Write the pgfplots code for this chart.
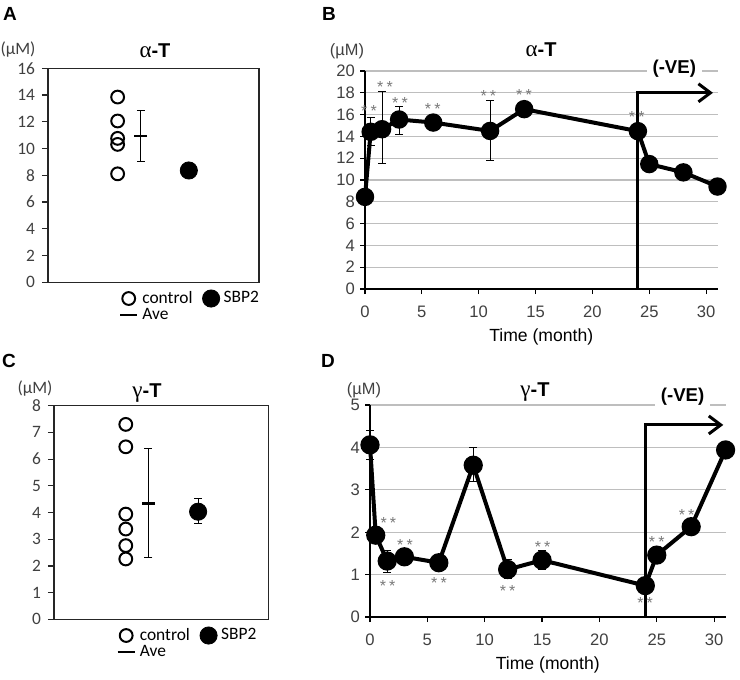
\documentclass[border=0pt]{standalone}
\usepackage{fontspec}
\setmainfont{Carlito}
\newfontfamily\hel{Liberation Sans}
\newfontfamily\grk{Liberation Serif}
\usepackage{pgfplots}
\pgfplotsset{compat=1.18}
\usetikzlibrary{arrows.meta}

\definecolor{tkl}{RGB}{64,64,64}
\definecolor{gridc}{RGB}{190,190,190}
\definecolor{astc}{RGB}{120,120,120}

\pgfplotsset{
  boxaxis/.style={
    anchor=south west, scale only axis, clip=false,
    xmin=0, xmax=4, ymin=0, xtick=\empty,
    ytick pos=left, tick align=outside, major tick length=3pt,
    axis line style={black!85, line width=0.6pt},
    tick style={black!85, line width=0.6pt},
    tick label style={font=\fontsize{8.7}{9}\selectfont, text=tkl},
    /pgf/number format/assume math mode=true,
    legend columns=2, legend cell align=left,
    legend style={draw=none, fill=none, inner sep=0pt,
      font=\fontsize{8.7}{9}\selectfont, row sep=-3pt,
      /tikz/every even column/.append style={column sep=3pt}},
  },
  timeaxis/.style={
    anchor=south west, scale only axis, clip=false,
    xmin=0, xmax=31, ymin=0, xtick={0,5,...,30},
    axis x line*=bottom, axis y line*=left,
    tick align=outside, major tick length=2.5pt,
    axis line style={black, line width=0.8pt},
    tick style={black, line width=0.6pt},
    ymajorgrids, grid style={gridc, line width=0.6pt},
    tick label style={font=\hel\fontsize{8.3}{9}\selectfont, text=tkl},
    xticklabel style={yshift=-2.5pt},
    yticklabel style={xshift=1pt},
    /pgf/number format/assume math mode=true,
    xlabel={Time (month)},
    xlabel style={font=\hel\fontsize{8.8}{9}\selectfont, yshift=1.5pt},
  },
  markleg/.style={legend image code/.code={\draw[##1] plot coordinates {(0.15cm,0cm)};}},
  aveleg/.style={legend image code/.code={\draw[black, line width=1.1pt] (0cm,0cm) -- (0.3cm,0cm);}},
  ctrl/.style={only marks, mark=o, mark size=3.2pt, mark options={line width=1pt, fill=white, draw=black}, markleg},
  sbp/.style={only marks, mark=*, mark size=4.3pt, mark options={fill=black, draw=black}, markleg},
  ave/.style={black, only marks, mark=-, mark size=3.2pt, mark options={line width=1.1pt}, aveleg},
  ebar/.style={draw=none, mark=none, forget plot,
    error bars/.cd, y dir=both, y explicit,
    error bar style={line width=0.5pt, black},
    error mark options={rotate=90, mark size=2pt, line width=0.5pt, black}},
}

\newcommand{\astr}{{*\hspace{1.6pt}*}}
\newcommand{\ttl}[1]{{\grk\fontsize{11.5}{11}\selectfont #1}{\hel\bfseries\fontsize{10}{10}\selectfont -T}}
\tikzset{astnode/.style={font=\hel\fontsize{8}{8}\selectfont, text=astc, inner sep=0pt},
  venode/.style={fill=white, inner xsep=3pt, inner ysep=1pt, font=\hel\bfseries\fontsize{9.3}{10}\selectfont}}

\begin{document}
\begin{tikzpicture}
\path (0,0) rectangle (370pt,336.5pt);

% ---------- A ----------
\begin{axis}[boxaxis, at={(24pt,195.35pt)}, width=105.5pt, height=107pt,
  ymax=16, ytick={0,2,...,16},
  legend style={at={(0.335,-0.02)}, anchor=north west}]
\addplot[ctrl] coordinates {(1.32,13.85) (1.32,12.06) (1.32,10.76) (1.32,10.31) (1.32,8.11)};
\addlegendentry{control}
\addplot[sbp] coordinates {(2.67,8.36)};
\addlegendentry{SBP2}
\addplot[ebar] coordinates {(1.76,10.96) += (0,1.89) -= (0,1.95)};
\addplot[ave] coordinates {(1.76,10.96)};
\addlegendentry{Ave}
\end{axis}

% ---------- B ----------
\begin{axis}[timeaxis, at={(182.5pt,192pt)}, width=176.25pt, height=109pt,
  ymax=20, ytick={0,2,...,20}]
\addplot[black, line width=1.5pt, -{Straight Barb[length=6pt,width=9pt]}]
  coordinates {(24,0) (24,18) (30.6,18)};
\addplot[ebar] coordinates {
  (0.5,14.42) += (0,1.28) -= (0,1.22)
  (1.5,14.66) += (0,3.44) -= (0,3.19)
  (3,15.55) += (0,1.22) -= (0,1.35)
  (11,14.5) += (0,2.76) -= (0,2.67)};
\addplot[black, line width=2pt, mark=*, mark size=3.6pt] coordinates {
  (0,8.45) (0.5,14.42) (1.5,14.66) (3,15.55) (6,15.27) (11,14.5) (14,16.5)
  (24,14.48) (25,11.46) (28,10.7) (31,9.4)};
\node[astnode] at (axis cs:0.35,16.35) {\astr};
\node[astnode] at (axis cs:1.76,18.55) {\astr};
\node[astnode] at (axis cs:3.08,17.1) {\astr};
\node[astnode] at (axis cs:5.95,16.55) {\astr};
\node[astnode] at (axis cs:10.85,17.7) {\astr};
\node[astnode] at (axis cs:13.98,17.8) {\astr};
\node[astnode] at (axis cs:23.9,15.75) {\astr};
\node[venode] at (axis cs:27.2,20.2) {(-VE)};
\end{axis}

% ---------- C ----------
\begin{axis}[boxaxis, at={(27pt,26.85pt)}, width=107.15pt, height=106.8pt,
  ymax=8, ytick={0,1,...,8},
  legend style={at={(0.29,-0.02)}, anchor=north west}]
\addplot[ctrl] coordinates {(1.34,7.30) (1.34,6.46) (1.34,3.94) (1.34,3.38) (1.34,2.76) (1.34,2.26)};
\addlegendentry{control}
\addplot[ebar] coordinates {(2.69,4.03) += (0,0.5) -= (0,0.43)};
\addplot[sbp] coordinates {(2.69,4.03)};
\addlegendentry{SBP2}
\addplot[ebar] coordinates {(1.76,4.34) += (0,2.06) -= (0,2.04)};
\addplot[ave] coordinates {(1.76,4.34)};
\addlegendentry{Ave}
\end{axis}

% ---------- D ----------
\begin{axis}[timeaxis, at={(185pt,28pt)}, width=177.8pt, height=106pt,
  ymax=5, ytick={0,1,...,5}]
\addplot[black, line width=1.5pt, -{Straight Barb[length=6pt,width=9pt]}]
  coordinates {(24,0) (24,4.53) (30.8,4.53)};
\addplot[ebar] coordinates {
  (0,4.06) += (0,0.35) -= (0,0.35)
  (1.5,1.32) += (0,0.26) -= (0,0.27)
  (9,3.58) += (0,0.42) -= (0,0.38)
  (12,1.12) += (0,0.23) -= (0,0.22)
  (15,1.34) += (0,0.24) -= (0,0.22)};
\addplot[black, line width=2pt, mark=*, mark size=3.8pt] coordinates {
  (0,4.06) (0.5,1.93) (1.5,1.32) (3,1.42) (6,1.28) (9,3.58) (12,1.12) (15,1.34)
  (24,0.74) (25,1.46) (28,2.13) (31,3.94)};
\node[astnode] at (axis cs:1.6,2.21) {\astr};
\node[astnode] at (axis cs:1.54,0.74) {\astr};
\node[astnode] at (axis cs:3.05,1.69) {\astr};
\node[astnode] at (axis cs:6.02,0.80) {\astr};
\node[astnode] at (axis cs:12.0,0.62) {\astr};
\node[astnode] at (axis cs:15.05,1.66) {\astr};
\node[astnode] at (axis cs:23.98,0.32) {\astr};
\node[astnode] at (axis cs:25.0,1.78) {\astr};
\node[astnode] at (axis cs:27.6,2.41) {\astr};
\node[venode] at (axis cs:27.25,5.19) {(-VE)};
\end{axis}

% ---------- titles and panel letters ----------
\begin{scope}[every node/.style={inner sep=0pt}]
\node[font=\hel\bfseries\fontsize{9.5}{10}\selectfont] at (5pt,329.5pt) {A};
\node[font=\hel\bfseries\fontsize{9.5}{10}\selectfont] at (164.5pt,329.5pt) {B};
\node[font=\hel\bfseries\fontsize{9.5}{10}\selectfont] at (4.5pt,156pt) {C};
\node[font=\hel\bfseries\fontsize{9.5}{10}\selectfont] at (164pt,156pt) {D};

\node[font=\fontsize{8.7}{9}\selectfont, text=tkl] at (9pt,311.5pt) {(µM)};
\node[font=\fontsize{8.7}{9}\selectfont, text=tkl] at (17.5pt,142pt) {(µM)};
\node[font=\hel\fontsize{8.2}{9}\selectfont, text=tkl] at (173.5pt,311pt) {(µM)};
\node[font=\hel\fontsize{8.2}{9}\selectfont, text=tkl] at (182pt,141.5pt) {(µM)};

\node at (77.5pt,311pt) {\ttl{α}};
\node at (270.5pt,311.5pt) {\ttl{α}};
\node at (73.5pt,140pt) {\ttl{γ}};
\node at (267.5pt,140.5pt) {\ttl{γ}};
\end{scope}
\end{tikzpicture}
\end{document}
